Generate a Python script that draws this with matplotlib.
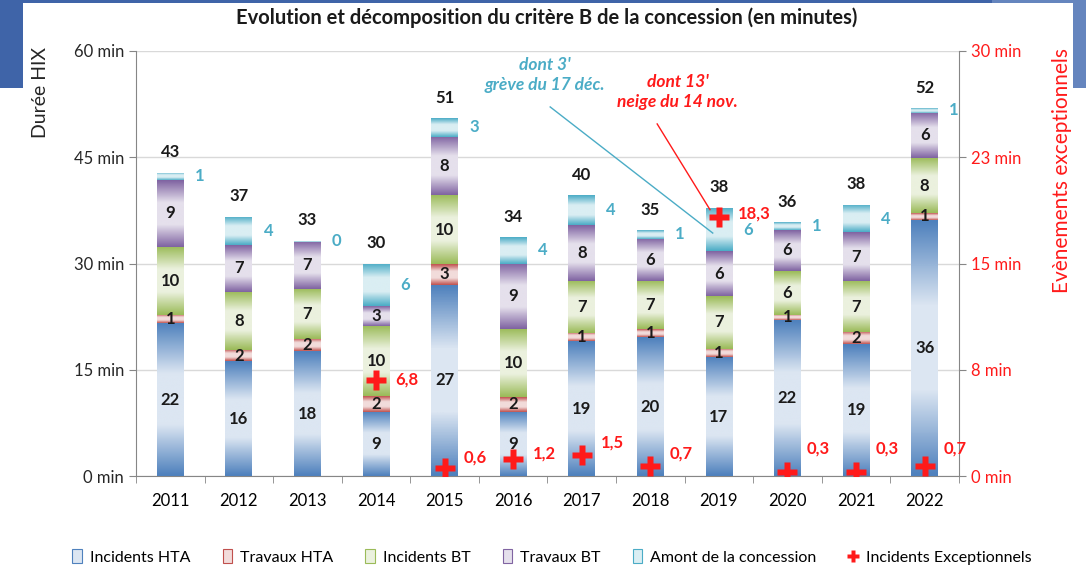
import numpy as np
import matplotlib
matplotlib.use("Agg")
import matplotlib.pyplot as plt
from matplotlib.colors import LinearSegmentedColormap
from matplotlib.patches import Patch, Rectangle
from matplotlib.lines import Line2D

plt.rcParams['font.family'] = ['Lato', 'DejaVu Sans']

years = ['2011', '2012', '2013', '2014', '2015', '2016', '2017', '2018', '2019', '2020', '2021', '2022']
inc_hta = [21.6, 16.2, 17.6, 9.1, 27.0, 9.1, 19.0, 19.6, 16.8, 22.0, 18.6, 36.2]
trav_hta = [1.2, 1.6, 1.7, 2.2, 2.9, 2.0, 1.2, 1.1, 1.2, 0.8, 1.7, 0.9]
inc_bt = [9.6, 8.2, 7.1, 9.9, 9.8, 9.6, 7.4, 6.8, 7.4, 6.2, 7.2, 7.8]
trav_bt = [9.4, 6.6, 6.7, 2.8, 8.2, 9.3, 7.9, 6.0, 6.3, 5.7, 6.9, 6.4]
amont = [1.0, 4.0, 0.1, 6.0, 2.6, 3.7, 4.1, 1.2, 6.2, 1.1, 3.9, 0.6]
exc_years = ['2014', '2015', '2016', '2017', '2018', '2019', '2020', '2021', '2022']
exc_vals = [6.8, 0.6, 1.2, 1.5, 0.7, 18.3, 0.3, 0.3, 0.7]

series = [
    ('Incidents HTA', inc_hta, '#4F81BD', '#DCE6F2'),
    ('Travaux HTA', trav_hta, '#C0504D', '#F2DCDB'),
    ('Incidents BT', inc_bt, '#9BBB59', '#EBF1DE'),
    ('Travaux BT', trav_bt, '#8064A2', '#E5E0EC'),
    ('Amont de la concession', amont, '#4BACC6', '#DAEEF3'),
]
amont_col = '#4BACC6'
red = '#FF1A1A'


def fmt(v, nd=0):
    # Excel style rounding (half up)
    q = 10 ** nd
    r = np.floor(v * q + 0.5) / q
    return f"{r:.{nd}f}".replace('.', ',')


fig = plt.figure(figsize=(10.86, 5.69), dpi=100)
ax = fig.add_axes([0.1252, 0.1634, 0.7578, 0.747])
ax2 = ax.twinx()

x = np.arange(len(years))
width = 0.39
bottom = np.zeros(len(years))
grad = np.linspace(0, 1, 64).reshape(-1, 1)
handles = []
for name, vals, dark, light in series:
    vals = np.array(vals)
    bars = ax.bar(x, vals, width, bottom=bottom, color='none', edgecolor='none', zorder=3)
    cmap = LinearSegmentedColormap.from_list(name, [dark, light, light, dark])
    for b in bars:
        bx, by, bw, bh = b.get_x(), b.get_y(), b.get_width(), b.get_height()
        im = ax.imshow(grad, extent=[bx, bx + bw, by, by + bh], cmap=cmap, aspect='auto',
                       origin='lower', interpolation='bicubic', zorder=3)
        im.set_clip_path(b)
    if name != 'Amont de la concession':
        for xi, b0, v in zip(x, bottom, vals):
            ax.text(xi, b0 + v / 2, fmt(v), ha='center', va='center', fontsize=12,
                    fontweight='bold', color='#1A1A1A', zorder=5)
    else:
        for xi, b0, v in zip(x, bottom, vals):
            ax.text(xi + 0.36, b0 + v / 2, fmt(v), ha='left', va='center', fontsize=12,
                    fontweight='bold', color=amont_col, zorder=5)
    handles.append(Patch(facecolor=light, edgecolor=dark, linewidth=0.8, label=name))
    bottom = bottom + vals

for xi, t in zip(x, bottom):
    ax.annotate(fmt(t), (xi, t), xytext=(0, 9), textcoords='offset points',
                ha='center', va='bottom', fontsize=12, fontweight='bold', color='#1A1A1A')

ax.set_xlim(-0.5, len(years) - 0.5)
ax.set_ylim(0, 60)
ax.set_yticks([0, 15, 30, 45, 60])
ax.set_yticklabels(['0 min', '15 min', '30 min', '45 min', '60 min'])
ax.set_xticks(x)
ax.set_xticklabels(years)
ax.set_xticks(np.arange(-0.5, len(years)), minor=True)
ax.tick_params(axis='x', which='major', length=0, pad=12, labelsize=12)
ax.tick_params(axis='x', which='minor', length=5, color='#868686', direction='out')
ax.tick_params(axis='y', length=5, color='#868686', labelsize=12, labelcolor='#262626')
ax.grid(axis='y', color='#D9D9D9', linewidth=1, zorder=0)
ax.set_axisbelow(True)
for s in ['top', 'right']:
    ax.spines[s].set_visible(False)
for s in ['left', 'bottom']:
    ax.spines[s].set_color('#868686')

# exceptional events on secondary axis
ex = [years.index(y) for y in exc_years]
ax2.plot(ex, exc_vals, linestyle='none', marker='P', markersize=15, color=red,
         markeredgecolor='none', zorder=6)
label_dy = [0, 7, 4, 9, 9, 2, 17, 17, 13]
for xi, v, dy in zip(ex, exc_vals, label_dy):
    ax2.annotate(fmt(v, 1), (xi, v), xytext=(14, dy), textcoords='offset points',
                 ha='left', va='center', fontsize=12, fontweight='bold', color=red)
ax2.set_ylim(0, 30)
ax2.set_yticks([0, 7.5, 15, 22.5, 30])
ax2.set_yticklabels(['0 min', '8 min', '15 min', '23 min', '30 min'])
ax2.tick_params(axis='y', length=5, color='#868686', labelsize=12, labelcolor=red)
for s in ['top', 'left', 'bottom']:
    ax2.spines[s].set_visible(False)
ax2.spines['right'].set_color('#868686')

# callouts
ax.plot([5.54, 7.91], [52.1, 34.3], color=amont_col, linewidth=1, zorder=7)
ax.text(5.46, 56.6, "dont 3'\ngrève du 17 déc.", ha='center', va='center', fontsize=12.5,
        fontweight='bold', fontstyle='italic', color=amont_col, linespacing=1.3)
ax.plot([7.10, 7.87], [49.7, 37.6], color=red, linewidth=1, zorder=7)
ax.text(7.40, 54.2, "dont 13'\nneige du 14 nov.", ha='center', va='center', fontsize=12.5,
        fontweight='bold', fontstyle='italic', color=red, linespacing=1.3)

fig.text(0.503, 0.968, "Evolution et décomposition du critère B de la concession (en minutes)",
         ha='center', va='center', fontsize=14.5, fontweight='bold', color='#1A1A1A')
fig.text(40 / 1086, 1 - 93 / 569, "Durée HIX", rotation=90, ha='center', va='center',
         fontsize=14, color='#262626')
fig.text(1062 / 1086, 1 - 170 / 569, "Evènements exceptionnels", rotation=90, ha='center',
         va='center', fontsize=15, color=red)

handles.append(Line2D([], [], linestyle='none', marker='P', markersize=8, color=red,
                      markeredgecolor='none', label='Incidents Exceptionnels'))
fig.legend(handles=handles, loc='center', bbox_to_anchor=(552 / 1086, 1 - 557 / 569), ncol=6,
           frameon=False, fontsize=11.5, handlelength=0.6, handleheight=0.9, handletextpad=0.5,
           columnspacing=2.0)

# slide decorations
fig.patches.append(Rectangle((0, 1 - 88 / 569), 23 / 1086, 88 / 569, transform=fig.transFigure,
                             facecolor='#3F64A8', edgecolor='none', zorder=0))
fig.patches.append(Rectangle((0, 1 - 3 / 569), 992 / 1086, 3 / 569, transform=fig.transFigure,
                             facecolor='#3F64A8', edgecolor='none', zorder=0))
fig.patches.append(Rectangle((992 / 1086, 1 - 3 / 569), 94 / 1086, 3 / 569, transform=fig.transFigure,
                             facecolor='#6585BE', edgecolor='none', zorder=0))
fig.patches.append(Rectangle((1073 / 1086, 1 - 88 / 569), 13 / 1086, 88 / 569, transform=fig.transFigure,
                             facecolor='#6585BE', edgecolor='none', zorder=0))

fig.savefig('out.png', dpi=100)
